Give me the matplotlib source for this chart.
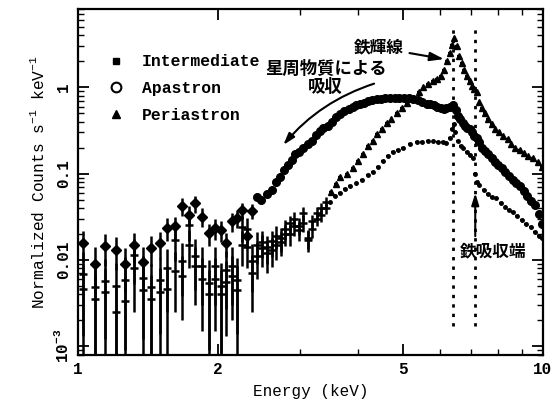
import matplotlib
matplotlib.use('Agg')
import matplotlib.pyplot as plt
from matplotlib.lines import Line2D

plt.rcParams['font.family'] = ['Liberation Mono', 'DejaVu Sans Mono']
plt.rcParams['font.weight'] = 'bold'
plt.rcParams['mathtext.default'] = 'regular'

# Intermediate: low-energy bins with error bars
int_lo_e = [1.025, 1.086, 1.145, 1.209, 1.264, 1.319, 1.380, 1.438, 1.498, 1.556, 1.619, 1.674,
            1.730, 1.788, 1.848, 1.910, 1.968, 2.027, 2.084, 2.144, 2.201, 2.256, 2.313, 2.371]
int_lo_f = [0.0157, 0.0090, 0.0144, 0.0131, 0.0090, 0.0150, 0.0095, 0.0137, 0.0157, 0.0237, 0.0244, 0.0425,
            0.0332, 0.0452, 0.0318, 0.0204, 0.0233, 0.0223, 0.0157, 0.0283, 0.0304, 0.0379, 0.0187, 0.0373]
int_lo_err = [0.0062, 0.0050, 0.0058, 0.0055, 0.0048, 0.0055, 0.0045, 0.0052, 0.0055, 0.0070, 0.0070, 0.0100,
              0.0085, 0.0100, 0.0080, 0.0060, 0.0065, 0.0062, 0.0050, 0.0070, 0.0070, 0.0080, 0.0050, 0.0075]
# Intermediate: continuum
int_hi_e = [2.43, 2.48, 2.55, 2.61, 2.67, 2.72, 2.78, 2.83, 2.88, 2.93, 2.98, 3.05, 3.12, 3.18, 3.25, 3.31,
            3.37, 3.45, 3.52, 3.59, 3.66, 3.74, 3.82, 3.90, 3.97, 4.04, 4.12, 4.20, 4.29, 4.39, 4.48, 4.58,
            4.69, 4.80, 4.91, 5.02, 5.14, 5.26, 5.38, 5.50, 5.62, 5.71, 5.82, 5.93, 6.02, 6.11, 6.20, 6.30,
            6.41, 6.50, 6.57, 6.63, 6.72, 6.80, 6.88, 6.97, 7.05, 7.12, 7.20, 7.30, 7.40, 7.50, 7.62, 7.75,
            7.88, 8.02, 8.15, 8.30, 8.45, 8.60, 8.76, 8.92, 9.08, 9.25, 9.43, 9.60, 9.78, 9.95]
int_hi_f = [0.054, 0.049, 0.058, 0.064, 0.080, 0.092, 0.110, 0.125, 0.145, 0.170, 0.180, 0.200, 0.220, 0.240,
            0.280, 0.310, 0.340, 0.360, 0.400, 0.450, 0.490, 0.530, 0.560, 0.590, 0.620, 0.640, 0.660, 0.690,
            0.710, 0.730, 0.740, 0.750, 0.760, 0.760, 0.750, 0.760, 0.750, 0.740, 0.710, 0.680, 0.650, 0.640,
            0.620, 0.590, 0.570, 0.560, 0.570, 0.600, 0.620, 0.550, 0.470, 0.430, 0.390, 0.360, 0.340, 0.330,
            0.300, 0.270, 0.260, 0.230, 0.200, 0.185, 0.170, 0.150, 0.135, 0.125, 0.115, 0.105, 0.095, 0.085,
            0.078, 0.072, 0.063, 0.055, 0.048, 0.043, 0.034, 0.026]

# Apastron / Periastron: low-energy bins with error bars
low_e = [1.025, 1.086, 1.145, 1.209, 1.264, 1.319, 1.380, 1.438, 1.498, 1.556, 1.619, 1.674, 1.730, 1.788,
         1.848, 1.910, 1.968, 2.027, 2.084, 2.144, 2.201, 2.256, 2.313, 2.371, 2.43, 2.49, 2.55, 2.61,
         2.67, 2.73, 2.79, 2.85, 2.92, 2.98, 3.05, 3.12, 3.19, 3.26, 3.33, 3.41]
apa_lo_f = [0.0068, 0.0048, 0.0057, 0.0050, 0.0059, 0.0113, 0.0062, 0.0048, 0.0059, 0.0080, 0.0171, 0.0098,
            0.0255, 0.0110, 0.0085, 0.0054, 0.0085, 0.0050, 0.0077, 0.0085, 0.0059, 0.0240, 0.0230, 0.0097,
            0.0150, 0.0137, 0.0120, 0.0164, 0.0150, 0.0180, 0.0230, 0.0200, 0.0250, 0.0220, 0.0270, 0.0170,
            0.0230, 0.0300, 0.0330, 0.0400]
apa_lo_err = [0.0055, 0.0042, 0.0045, 0.0042, 0.0050, 0.0060, 0.0050, 0.0042, 0.0045, 0.0055, 0.0075, 0.0060,
              0.0090, 0.0065, 0.0055, 0.0045, 0.0055, 0.0042, 0.0050, 0.0055, 0.0045, 0.0080, 0.0075, 0.0055,
              0.0060, 0.0055, 0.0050, 0.0055, 0.0050, 0.0055, 0.0060, 0.0055, 0.0060, 0.0055, 0.0060, 0.0045,
              0.0050, 0.0055, 0.0055, 0.0060]
per_lo_f = [0.0046, 0.0035, 0.0042, 0.0025, 0.0033, 0.0080, 0.0045, 0.0035, 0.0042, 0.0046, 0.0075, 0.0065,
            0.0150, 0.0085, 0.0060, 0.0040, 0.0060, 0.0040, 0.0055, 0.0065, 0.0045, 0.0150, 0.0140, 0.0070,
            0.0110, 0.0160, 0.0140, 0.0130, 0.0190, 0.0160, 0.0200, 0.0266, 0.0300, 0.0250, 0.0347, 0.0180,
            0.0280, 0.0350, 0.0400, 0.0470]
per_lo_err = [0.0042, 0.0032, 0.0038, 0.0023, 0.0030, 0.0055, 0.0040, 0.0032, 0.0038, 0.0040, 0.0050, 0.0045,
              0.0070, 0.0055, 0.0045, 0.0036, 0.0045, 0.0036, 0.0042, 0.0045, 0.0040, 0.0065, 0.0060, 0.0045,
              0.0050, 0.0055, 0.0050, 0.0048, 0.0055, 0.0050, 0.0055, 0.0060, 0.0060, 0.0055, 0.0065, 0.0045,
              0.0055, 0.0060, 0.0060, 0.0065]

# Apastron continuum
apa_hi_e = [3.49, 3.57, 3.66, 3.75, 3.85, 3.97, 4.08, 4.20, 4.31, 4.42, 4.53, 4.64, 4.76, 4.88, 5.00, 5.17,
            5.35, 5.50, 5.65, 5.81, 5.95, 6.08, 6.20, 6.30, 6.38, 6.43, 6.48, 6.55, 6.65, 6.74, 6.85, 6.97,
            7.08, 7.15, 7.22, 7.30, 7.45, 7.60, 7.78, 7.94, 8.12, 8.30, 8.45, 8.60, 8.80, 9.00, 9.20, 9.40,
            9.60, 9.80, 9.95]
apa_hi_f = [0.047, 0.055, 0.059, 0.066, 0.072, 0.077, 0.085, 0.097, 0.105, 0.120, 0.140, 0.160, 0.178, 0.190,
            0.200, 0.220, 0.230, 0.235, 0.240, 0.240, 0.235, 0.230, 0.225, 0.260, 0.330, 0.380, 0.300, 0.240,
            0.210, 0.200, 0.180, 0.165, 0.150, 0.100, 0.080, 0.073, 0.065, 0.058, 0.054, 0.052, 0.046, 0.041,
            0.038, 0.036, 0.032, 0.029, 0.026, 0.024, 0.021, 0.019, 0.018]

# Periastron continuum
per_hi_e = [3.50, 3.58, 3.66, 3.78, 3.90, 4.00, 4.10, 4.20, 4.30, 4.40, 4.50, 4.61, 4.72, 4.85, 4.97, 5.10,
            5.26, 5.40, 5.53, 5.65, 5.80, 5.92, 6.02, 6.12, 6.22, 6.30, 6.38, 6.45, 6.52, 6.60, 6.68, 6.76,
            6.85, 6.95, 7.05, 7.12, 7.20, 7.30, 7.40, 7.50, 7.62, 7.75, 7.90, 8.05, 8.22, 8.40, 8.55, 8.72,
            8.92, 9.10, 9.30, 9.52, 9.75, 9.95]
per_hi_f = [0.062, 0.075, 0.092, 0.100, 0.115, 0.140, 0.170, 0.210, 0.240, 0.290, 0.330, 0.390, 0.430, 0.500,
            0.570, 0.660, 0.760, 0.880, 1.000, 1.080, 1.180, 1.250, 1.350, 1.600, 2.000, 2.500, 3.100, 3.700,
            3.000, 2.300, 1.900, 1.600, 1.350, 1.180, 1.050, 0.960, 0.880, 0.680, 0.580, 0.500, 0.430, 0.380,
            0.330, 0.300, 0.275, 0.250, 0.220, 0.200, 0.190, 0.175, 0.160, 0.150, 0.135, 0.120]

fe_line_e = 6.4
fe_edge_e = 7.15

fig = plt.figure(figsize=(5.59, 4.04), dpi=100)
ax = fig.add_axes([78 / 559, 49 / 404, 465 / 559, 346 / 404])
ax.set_xscale('log')
ax.set_yscale('log')

bin_frac = 0.02
ax.errorbar(low_e, per_lo_f, yerr=per_lo_err, xerr=[e * bin_frac for e in low_e],
            fmt='none', ecolor='k', elinewidth=1.8, capsize=0)
ax.errorbar(low_e, apa_lo_f, yerr=apa_lo_err, xerr=[e * bin_frac for e in low_e],
            fmt='none', ecolor='k', elinewidth=1.8, capsize=0)
ax.errorbar(int_lo_e, int_lo_f, yerr=int_lo_err, xerr=[e * bin_frac for e in int_lo_e],
            fmt='D', ms=5, color='k', elinewidth=1.8, capsize=0)

ax.plot(int_hi_e, int_hi_f, 'o', ms=5.5, color='k')
ax.errorbar(per_hi_e, per_hi_f, xerr=[e * 0.009 for e in per_hi_e], fmt='^', ms=3.8,
            color='k', elinewidth=1.7, capsize=0)
ax.errorbar(apa_hi_e, apa_hi_f, xerr=[e * 0.009 for e in apa_hi_e], fmt='o', ms=2.5,
            color='k', elinewidth=1.7, capsize=0)

ax.vlines([fe_line_e, fe_edge_e], 0.0017, 5.2, colors='k', linestyles=(0, (1.2, 2.2)), lw=2)

ax.set_xlim(1, 10)
ax.set_ylim(7.9e-4, 8.1)

ax.set_xticks([1, 2, 5, 10])
ax.set_xticklabels(['1', '2', '5', '10'])
ax.set_xticks([3, 4, 6, 7, 8, 9], minor=True)
ax.set_xticklabels([], minor=True)
ax.set_yticks([1e-3, 1e-2, 1e-1, 1])
ax.set_yticklabels(['10$^{-3}$', '0.01', '0.1', '1'], rotation=90, va='center')
ax.tick_params(which='both', direction='in', top=True, right=True, labelsize=11.5)
ax.tick_params(which='major', length=8, width=1.3, pad=5)
ax.tick_params(which='minor', length=4, width=1.0)
for s in ax.spines.values():
    s.set_linewidth(1.6)

ax.set_xlabel('Energy (keV)', fontsize=11.5, labelpad=5)
ax.set_ylabel('Normalized Counts s$^{-1}$ keV$^{-1}$', fontsize=11.7, labelpad=4)

handles = [Line2D([], [], marker='s', ls='none', color='k', ms=5),
           Line2D([], [], marker='o', ls='none', mfc='none', mec='k', mew=1.5, ms=7),
           Line2D([], [], marker='^', ls='none', color='k', ms=6)]
ax.legend(handles, ['Intermediate', 'Apastron', 'Periastron'], loc='upper left',
          bbox_to_anchor=(0.05, 0.888), frameon=False, handlelength=1.0, handletextpad=1.1,
          labelspacing=0.72, fontsize=11.8, borderaxespad=0)

jp = ['Noto Sans CJK JP', 'DejaVu Sans']
arrow = dict(arrowstyle='-|>,head_length=0.7,head_width=0.22', color='k', lw=1.5)
ax.annotate('鉄輝線', xy=(6.21, 2.1), xytext=(4.44, 2.88), ha='center', va='center',
            family=jp, fontsize=12, fontweight='bold', arrowprops=arrow)
ax.text(3.41, 1.30, '星周物質による\n吸収', ha='center', va='center', family=jp,
        fontsize=12.5, fontweight='bold', linespacing=1.0)
ax.annotate('', xy=(2.74, 0.203), xytext=(4.39, 1.13),
            arrowprops=dict(arrow, connectionstyle='arc3,rad=0.15'))
ax.annotate('', xy=(fe_edge_e, 0.064), xytext=(fe_edge_e, 0.0175), arrowprops=arrow)
ax.text(7.81, 0.0127, '鉄吸収端', ha='center', va='center', family=jp,
        fontsize=12, fontweight='bold')

fig.savefig('out.png', dpi=100)
